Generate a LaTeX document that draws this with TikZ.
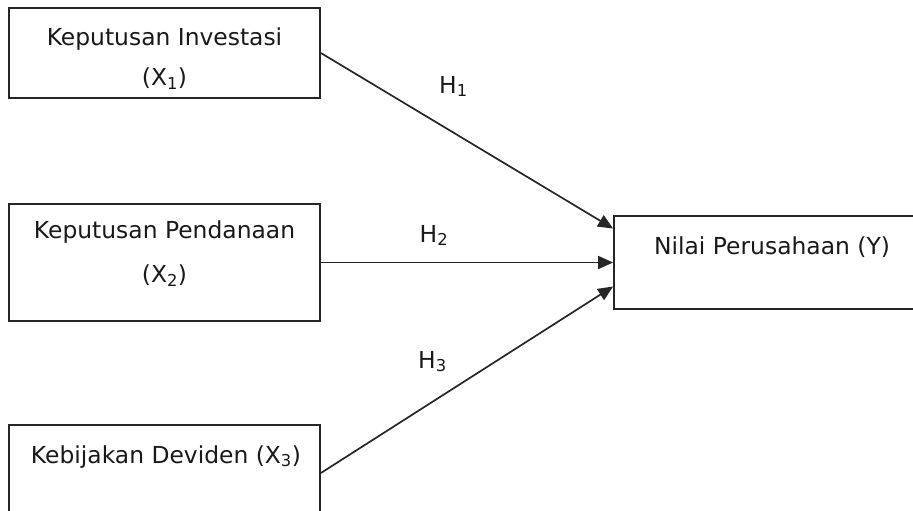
\documentclass[tikz,border=0pt]{standalone}
\usepackage{fontspec}
\setmainfont{DejaVu Sans}
\usetikzlibrary{arrows.meta}
\begin{document}
\begin{tikzpicture}[x=1pt, y=-1pt,
  varbox/.style={draw=black!85, line width=1.8pt, rectangle, minimum width=311pt, inner sep=0pt},
  lbl/.style={inner sep=0pt, align=center, text=black!90, font=\fontsize{23.4}{40}\selectfont},
  hyp/.style={draw=black!85, line width=1.7pt, -{Triangle[length=15pt,width=13pt]}}]
\clip (0,0) rectangle (913,511);
% --- independent variables (X) ---
\node[varbox, minimum height=90pt] (inv) at (164.5,53) {};
\node[varbox, minimum height=117pt] (fin) at (164.5,262.5) {};
\node[varbox, minimum height=96pt] (div) at (164.5,473) {};
% --- dependent variable (Y) ---
\node[varbox, minimum height=93pt] (val) at (769.5,262.5) {};

% box texts
\node[lbl] (invT) at (164.5,58.6) {Keputusan Investasi\\(X\textsubscript{1})};
\node[lbl, font=\fontsize{23.4}{44}\selectfont] (finT) at (164.5,253.6) {Keputusan Pendanaan\\(X\textsubscript{2})};
\node[lbl, anchor=base] (divT) at (166,463) {Kebijakan Deviden (X\textsubscript{3})};
\node[lbl, anchor=base] (valT) at (772,254) {Nilai Perusahaan (Y)};

% hypotheses
\draw[hyp] (inv.east) -- ([yshift=34pt]val.west);
\draw[hyp] (fin.east) -- (val.west);
\draw[hyp] (div.east) -- ([yshift=-24pt]val.west);
\node[lbl, anchor=base] (h1) at (453.5,93) {H\textsubscript{1}};
\node[lbl, anchor=base] (h2) at (434,242) {H\textsubscript{2}};
\node[lbl, anchor=base] (h3) at (432.5,368) {H\textsubscript{3}};
\end{tikzpicture}
\end{document}
